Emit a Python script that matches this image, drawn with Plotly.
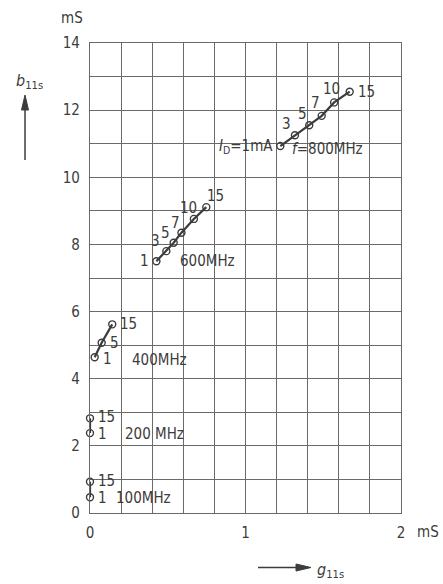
import plotly.graph_objects as go

# ---- data ----
freq_labels = ["100MHz", "200 MHz", "400MHz", "600MHz", "800MHz"]
i_100 = [1, 15]
g_100 = [0.0, 0.0]
b_100 = [0.47, 0.93]
i_200 = [1, 15]
g_200 = [0.0, 0.0]
b_200 = [2.38, 2.82]
i_400 = [1, 5, 15]
g_400 = [0.03, 0.075, 0.143]
b_400 = [4.64, 5.07, 5.62]
i_600 = [1, 3, 5, 7, 10, 15]
g_600 = [0.427, 0.491, 0.538, 0.588, 0.668, 0.748]
b_600 = [7.50, 7.80, 8.05, 8.35, 8.76, 9.11]
i_800 = [1, 3, 5, 7, 10, 15]
g_800 = [1.224, 1.318, 1.41, 1.49, 1.57, 1.67]
b_800 = [10.93, 11.25, 11.55, 11.83, 12.23, 12.55]

x_ticks = [0, 1, 2]
x_ticktext = ["0", "1", "2"]
y_ticks = [0, 2, 4, 6, 8, 10, 12, 14]
y_ticktext = [str(v) for v in y_ticks]

INK = "#3c3c3c"
GRID = "#6a6a6a"
FONT = "DejaVu Sans Condensed, Liberation Sans Narrow, DejaVu Sans, sans-serif"
FS = 15

series = [
    (i_100, g_100, b_100),
    (i_200, g_200, b_200),
    (i_400, g_400, b_400),
    (i_600, g_600, b_600),
    (i_800, g_800, b_800),
]

fig = go.Figure()
for (cur, g, b), name in zip(series, freq_labels):
    fig.add_trace(go.Scatter(
        x=g, y=b, mode="lines+markers", name=name, cliponaxis=False,
        line=dict(color=INK, width=2.2),
        marker=dict(symbol="circle-open", size=7, color=INK, line=dict(width=1.4, color=INK)),
        showlegend=False, hoverinfo="skip"))

ann = []
def lab(x, y, text, dx, dy, xanchor="center", size=FS):
    ann.append(dict(x=x, y=y, xref="x", yref="y", text=text, showarrow=False,
                    xanchor=xanchor, yanchor="middle", xshift=dx, yshift=dy,
                    font=dict(family=FONT, size=size, color=INK)))

# 100 MHz
lab(g_100[1], b_100[1], str(i_100[1]), 6, 1, "left")
lab(g_100[0], b_100[0], str(i_100[0]), 6, -1, "left")
lab(g_100[0], b_100[0], freq_labels[0], 24, -1, "left")
# 200 MHz
lab(g_200[1], b_200[1], str(i_200[1]), 6, 1, "left")
lab(g_200[0], b_200[0], str(i_200[0]), 6, -1, "left")
lab(g_200[0], b_200[0], freq_labels[1], 33, -1, "left")
# 400 MHz
lab(g_400[0], b_400[0], str(i_400[0]), 6, -2, "left")
lab(g_400[1], b_400[1], str(i_400[1]), 6, 0, "left")
lab(g_400[2], b_400[2], str(i_400[2]), 6, 0, "left")
lab(g_400[0], b_400[0], freq_labels[2], 35, -3, "left")
# 600 MHz
lab(g_600[0], b_600[0], str(i_600[0]), -5, 0, "right")
off600 = {3: (-11, 10), 5: (-8, 10), 7: (-6, 10), 10: (-5, 11), 15: (9, 11)}
for c, x, y in zip(i_600, g_600, b_600):
    if c in off600:
        dx, dy = off600[c]
        lab(x, y, str(c), dx, dy)
lab(g_600[0], b_600[0], freq_labels[3], 22, 0, "left")
# 800 MHz
off800 = {3: (-8, 11), 5: (-7, 11), 7: (-6, 13), 10: (-3, 13), 15: (6, 0)}
for c, x, y in zip(i_800, g_800, b_800):
    if c in off800:
        dx, dy = off800[c]
        lab(x, y, str(c), dx, dy, "left" if c == 15 else "center")
lab(g_800[0], b_800[0], "<i>I</i><sub>D</sub>=1mA", -5, 0, "right")
lab(g_800[0], b_800[0], "<i>f</i>=" + freq_labels[4], 10, -3, "left")

# plot-area geometry (pixels)
L, R, T, B = 90, 401, 43, 513
W, H = R - L, B - T
def px(xp):
    return (xp - L) / W
def py(yp):
    return (B - yp) / H

# unit labels
ann.append(dict(x=px(72), y=py(18), xref="paper", yref="paper", text="mS", showarrow=False,
                xanchor="center", yanchor="middle", font=dict(family=FONT, size=FS, color=INK)))
ann.append(dict(x=px(428), y=py(532), xref="paper", yref="paper", text="mS", showarrow=False,
                xanchor="center", yanchor="middle", font=dict(family=FONT, size=FS, color=INK)))
# axis quantity labels
ann.append(dict(x=px(29), y=py(82), xref="paper", yref="paper", text="<i>b</i><sub>11s</sub>",
                showarrow=False, xanchor="center", yanchor="middle",
                font=dict(family=FONT, size=FS + 1, color=INK)))
ann.append(dict(x=px(330), y=py(570), xref="paper", yref="paper", text="<i>g</i><sub>11s</sub>",
                showarrow=False, xanchor="center", yanchor="middle",
                font=dict(family=FONT, size=FS + 1, color=INK)))

# axis direction arrows as shapes
shapes = [
    dict(type="line", xref="paper", yref="paper", x0=px(25), x1=px(25), y0=py(160), y1=py(104),
         line=dict(color=INK, width=1.5)),
    dict(type="path", xref="paper", yref="paper",
         path=f"M {px(21.5)} {py(110)} L {px(25)} {py(95)} L {px(28.5)} {py(110)} Z",
         fillcolor=INK, line=dict(color=INK, width=1)),
    dict(type="line", xref="paper", yref="paper", x0=px(258), x1=px(300), y0=py(567.5), y1=py(567.5),
         line=dict(color=INK, width=1.5)),
    dict(type="path", xref="paper", yref="paper",
         path=f"M {px(296)} {py(564)} L {px(311)} {py(567.5)} L {px(296)} {py(571)} Z",
         fillcolor=INK, line=dict(color=INK, width=1)),
]

axis_common = dict(showgrid=True, gridcolor=GRID, gridwidth=1.2, zeroline=False,
                   showline=True, linecolor=GRID, linewidth=1.2, mirror=True,
                   ticks="", tickfont=dict(family=FONT, size=FS, color=INK), fixedrange=True,
                   ticklabelstandoff=6)

fig.update_layout(
    width=443, height=584,
    margin=dict(l=L, r=443 - R, t=T, b=584 - B),
    paper_bgcolor="white", plot_bgcolor="white",
    xaxis=dict(range=[0, 2], tickmode="array", tickvals=x_ticks, ticktext=x_ticktext,
               minor=dict(dtick=0.2, tick0=0, showgrid=True, gridcolor=GRID, gridwidth=1.2),
               **axis_common),
    yaxis=dict(range=[0, 14], tickmode="array", tickvals=y_ticks, ticktext=y_ticktext,
               minor=dict(dtick=1, tick0=0, showgrid=True, gridcolor=GRID, gridwidth=1.2),
               **axis_common),
    annotations=ann,
    shapes=shapes,
)

fig.write_html("out.html")
